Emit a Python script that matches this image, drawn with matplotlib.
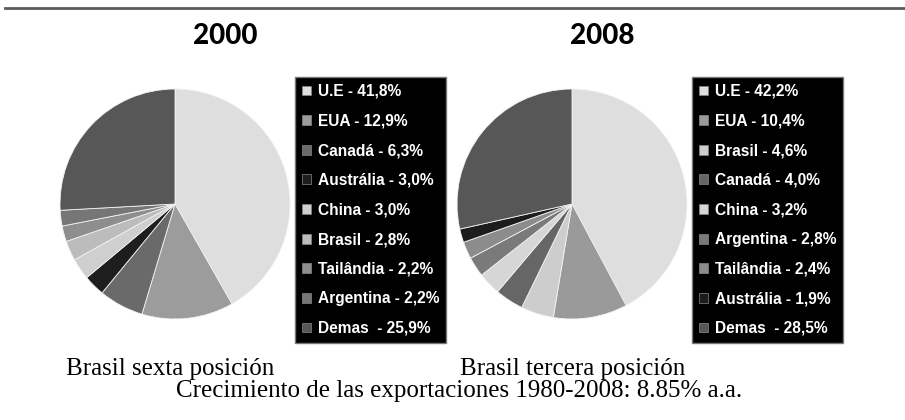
import matplotlib.pyplot as plt
from matplotlib.lines import Line2D

labels_2000 = ["U.E", "EUA", "Canadá", "Austrália", "China", "Brasil", "Tailândia", "Argentina", "Demas "]
values_2000 = [41.8, 12.9, 6.3, 3.0, 3.0, 2.8, 2.2, 2.2, 25.9]
colors_2000 = ["#dedede", "#9c9c9c", "#6a6a6a", "#1e1e1e", "#cfcfcf", "#bcbcbc", "#8e8e8e", "#767676", "#575757"]

labels_2008 = ["U.E", "EUA", "Brasil", "Canadá", "China", "Argentina", "Tailândia", "Austrália", "Demas "]
values_2008 = [42.2, 10.4, 4.6, 4.0, 3.2, 2.8, 2.4, 1.9, 28.5]
colors_2008 = ["#dedede", "#9a9a9a", "#cdcdcd", "#666666", "#d6d6d6", "#7a7a7a", "#8c8c8c", "#1c1c1c", "#575757"]


def fmt(v):
    return f"{v:.1f}".replace(".", ",") + "%"


W, H = 905, 420
fig = plt.figure(figsize=(W / 100, H / 100), dpi=100)

# top rule
fig.add_artist(Line2D([5 / W, 1], [1 - 8 / H, 1 - 8 / H], color="#5a5a5a", lw=2))


def draw(cx, cy, r, values, labels, colors, leg_x, leg_y, title, tx):
    ax = fig.add_axes([(cx - r) / W, 1 - (cy + r) / H, 2 * r / W, 2 * r / H])
    wedges, _ = ax.pie(values, colors=colors, startangle=90, counterclock=False,
                       wedgeprops=dict(edgecolor="#f2f2f2", linewidth=0.6))
    ax.set_xlim(-1, 1)
    ax.set_ylim(-1, 1)
    ax.set_aspect("auto")
    names = [f"{l} - {fmt(v)}" for l, v in zip(labels, values)]
    leg = ax.legend(wedges, names, loc="upper left",
                    bbox_to_anchor=(leg_x / W, 1 - leg_y / H), bbox_transform=fig.transFigure,
                    facecolor="black", edgecolor="#777777", framealpha=1, fancybox=False,
                    labelcolor="white", handlelength=0.6, handleheight=0.6, handletextpad=0.4,
                    labelspacing=0.94, borderpad=0.45, borderaxespad=0,
                    prop=dict(family="Liberation Sans", weight="bold", size=11.2))
    for h in leg.legend_handles:
        h.set_edgecolor("#888888")
        h.set_linewidth(0.5)
    fig.text(tx / W, 1 - 36 / H, title, ha="center", va="center",
             family="Lato", weight="black", fontsize=20)


draw(175, 204, 115, values_2000, labels_2000, colors_2000, 295, 77, "2000", 225)
draw(572, 204, 115, values_2008, labels_2008, colors_2008, 692, 77, "2008", 602)

serif = dict(family="Liberation Serif", fontsize=18, color="black")
fig.text(170 / W, 1 - 375 / H, "Brasil sexta posición", ha="center", va="baseline", **serif)
fig.text(573 / W, 1 - 375 / H, "Brasil tercera posición", ha="center", va="baseline", **serif)
fig.text(459 / W, 1 - 397 / H, "Crecimiento de las exportaciones 1980-2008: 8.85% a.a.",
         ha="center", va="baseline", **serif)

fig.savefig("out.png", dpi=100)
